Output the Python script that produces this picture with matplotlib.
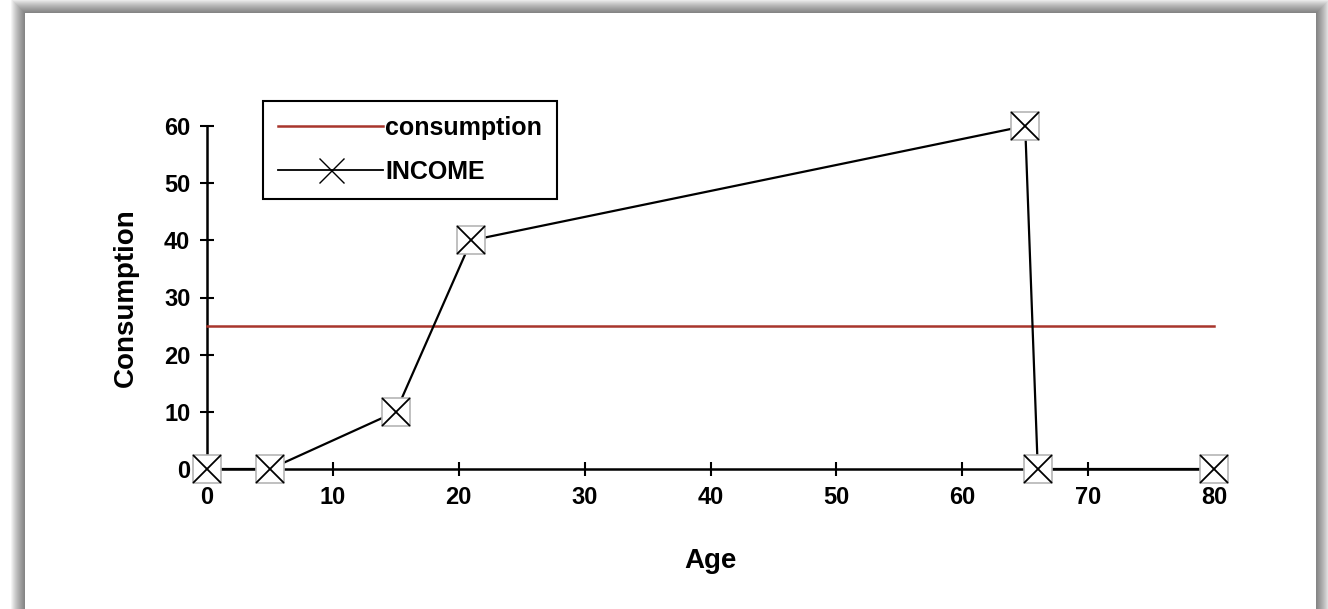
import matplotlib
matplotlib.use("Agg")
import matplotlib.pyplot as plt
from matplotlib.patches import Rectangle
from matplotlib.lines import Line2D

age = [0, 5, 15, 21, 65, 66, 80]
income = [0, 0, 10, 40, 60, 0, 0]
cons_age = [0, 80]
consumption = [25, 25]
xticks = [0, 10, 20, 30, 40, 50, 60, 70, 80]
yticks = [0, 10, 20, 30, 40, 50, 60]

W, H = 1328, 609
fig = plt.figure(figsize=(W / 100, H / 100), dpi=100)
fig.patch.set_facecolor("white")

# drop shadow frame
px, py, pw, ph = 25, 0, 1291, 596  # panel in pixels (from bottom)
for i in range(14, 0, -1):
    fig.patches.append(Rectangle(((px - i) / W, (py - i) / H), (pw + 2 * i) / W, (ph + 2 * i) / H,
                                 transform=fig.transFigure, facecolor="black",
                                 alpha=0.045, edgecolor="none", zorder=0))
fig.patches.append(Rectangle((px / W, py / H), pw / W, ph / H, transform=fig.transFigure,
                             facecolor="white", edgecolor="none", zorder=1))

ax = fig.add_axes([207 / W, 1 - 469 / H, (1214 - 207) / W, (469 - 126) / H])
ax.set_facecolor("none")
ax.set_zorder(2)
ax.set_xlim(0, 80)
ax.set_ylim(0, 60)

ax.plot(cons_age, consumption, color="#a8352c", lw=1.8, clip_on=False, zorder=3)
ax.plot(age, income, color="black", lw=1.6, clip_on=False, zorder=3)
ax.plot(age, income, ls="none", marker="s", ms=20, mfc="white", mec="#b5b5b5", mew=1.2,
        clip_on=False, zorder=4)
ax.plot(age, income, ls="none", marker="x", ms=20, mec="black", mew=1.3,
        clip_on=False, zorder=5)

for s in ["top", "right"]:
    ax.spines[s].set_visible(False)
for s in ["left", "bottom"]:
    ax.spines[s].set_linewidth(1.8)
ax.set_xticks(xticks)
ax.set_yticks(yticks)
ax.tick_params(direction="inout", length=10, width=1.5, labelsize=17, pad=7)
for lab in ax.get_xticklabels() + ax.get_yticklabels():
    lab.set_fontweight("bold")
    lab.set_fontfamily("Liberation Sans")

ax.set_xlabel("Age", fontsize=20, fontweight="bold", family="Liberation Sans", labelpad=28)
ax.set_ylabel("Consumption", fontsize=20, fontweight="bold", family="Liberation Sans", labelpad=18)

handles = [Line2D([], [], color="#a8352c", lw=1.8),
           Line2D([], [], color="black", lw=1.3, marker="x", ms=18, mew=1.0)]
leg = ax.legend(handles, ["consumption", "INCOME"], loc="upper left",
                bbox_to_anchor=(263 / W, 1 - 101 / H), bbox_transform=fig.transFigure,
                borderaxespad=0, fancybox=False, framealpha=1, edgecolor="black",
                prop={"family": "Liberation Sans", "weight": "bold", "size": 18},
                handlelength=4.2, handletextpad=0.1, borderpad=0.6, labelspacing=0.8)
leg.get_frame().set_linewidth(1.5)

fig.savefig("out.png", dpi=100)
